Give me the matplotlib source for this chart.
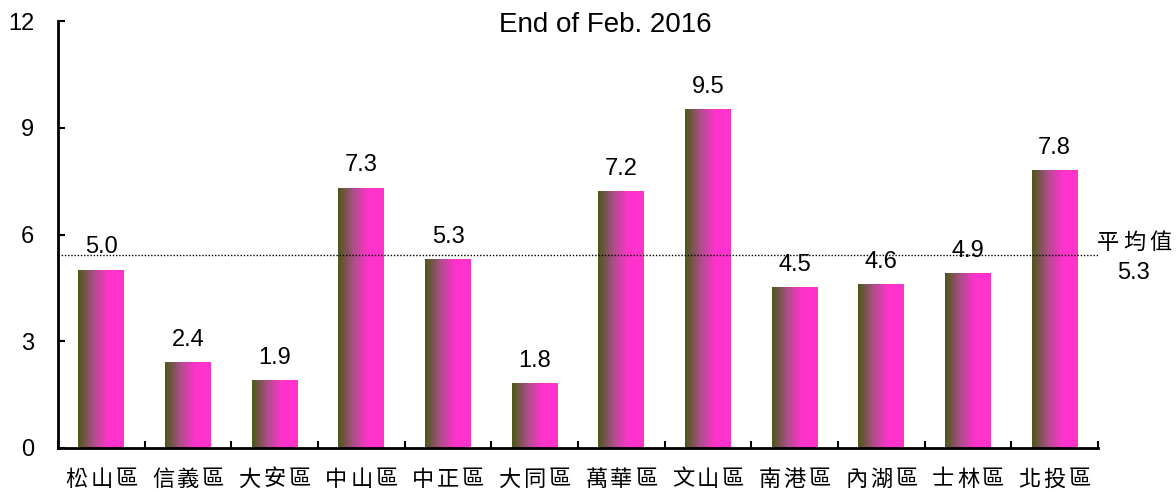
import numpy as np
import matplotlib
matplotlib.use("Agg")
import matplotlib.pyplot as plt
from matplotlib.colors import LinearSegmentedColormap

plt.rcParams['font.family'] = ['Liberation Sans', 'Noto Sans CJK TC', 'DejaVu Sans']

# data
districts = ["松山區", "信義區", "大安區", "中山區", "中正區", "大同區",
             "萬華區", "文山區", "南港區", "內湖區", "士林區", "北投區"]
values = [5.0, 2.4, 1.9, 7.3, 5.3, 1.8, 7.2, 9.5, 4.5, 4.6, 4.9, 7.8]
avg_value = 5.3
avg_line_y = 5.42   # where the dotted line sits in the picture
avg_label = "平均值"
yticks = [0, 3, 6, 9, 12]
title = "End of Feb. 2016"

W, H = 1176, 492
fig = plt.figure(figsize=(W / 100, H / 100), dpi=100)
ax = fig.add_axes([58 / W, 44 / H, 1040 / W, 427 / H])

# gradient from olive (left edge) to magenta (right side)
cmap = LinearSegmentedColormap.from_list(
    "olive_magenta", [(0.0, "#4a5a18"), (0.35, "#b04d8c"), (0.66, "#ff33cc"), (1.0, "#ff33cc")])
grad = np.linspace(0, 1, 256).reshape(1, -1)

width = 0.53
x = np.arange(len(districts))
for xi, v in zip(x, values):
    ax.imshow(grad, cmap=cmap, aspect="auto",
              extent=[xi - width / 2, xi + width / 2, 0, v], zorder=2)
    ax.text(xi, v + 0.33, f"{v:.1f}", ha="center", va="bottom", fontsize=17)

ax.set_xlim(-0.5, len(districts) - 0.5)
ax.set_ylim(0, 12)

# average line
ax.plot([-0.5, len(districts) - 0.5], [avg_line_y, avg_line_y], color="black",
        linestyle=(0, (1, 1.3)), linewidth=1.0, zorder=3)


def spaced(px, py, s, step, size):
    # draw CJK text one char at a time, widely spaced like the original
    n = len(s)
    for k, ch in enumerate(s):
        fig.text((px + (k - (n - 1) / 2) * step) / W, 1 - py / H, ch,
                 ha="center", va="center", fontsize=size, family=['Noto Sans CJK TC'])


spaced(1134, 242, avg_label, 26, 16)
fig.text(1133 / W, 1 - 273 / H, f"{avg_value:.1f}", ha="center", va="center", fontsize=17)

# title
fig.text(605 / W, 1 - 25 / H, title, ha="center", va="center", fontsize=20)

# category labels under the bars
slot = 1040 / len(districts)
for i, name in enumerate(districts):
    spaced(58 + slot * (i + 0.5), 479, name, 25, 16)

# axes styling
for s in ["top", "right"]:
    ax.spines[s].set_visible(False)
ax.spines["left"].set_linewidth(2)
ax.spines["bottom"].set_linewidth(2)

ax.set_yticks(yticks)
ax.set_yticklabels([str(t) for t in yticks], fontsize=17)
ax.tick_params(axis="y", direction="in", length=5, width=1.5, pad=17)

ax.set_xticks([])
ax.set_xticks(np.arange(len(districts) + 1) - 0.5, minor=True)
ax.tick_params(axis="x", which="minor", direction="in", length=5, width=1.5)
ax.tick_params(axis="x", which="major", length=0)

fig.savefig("out.png", dpi=100)
